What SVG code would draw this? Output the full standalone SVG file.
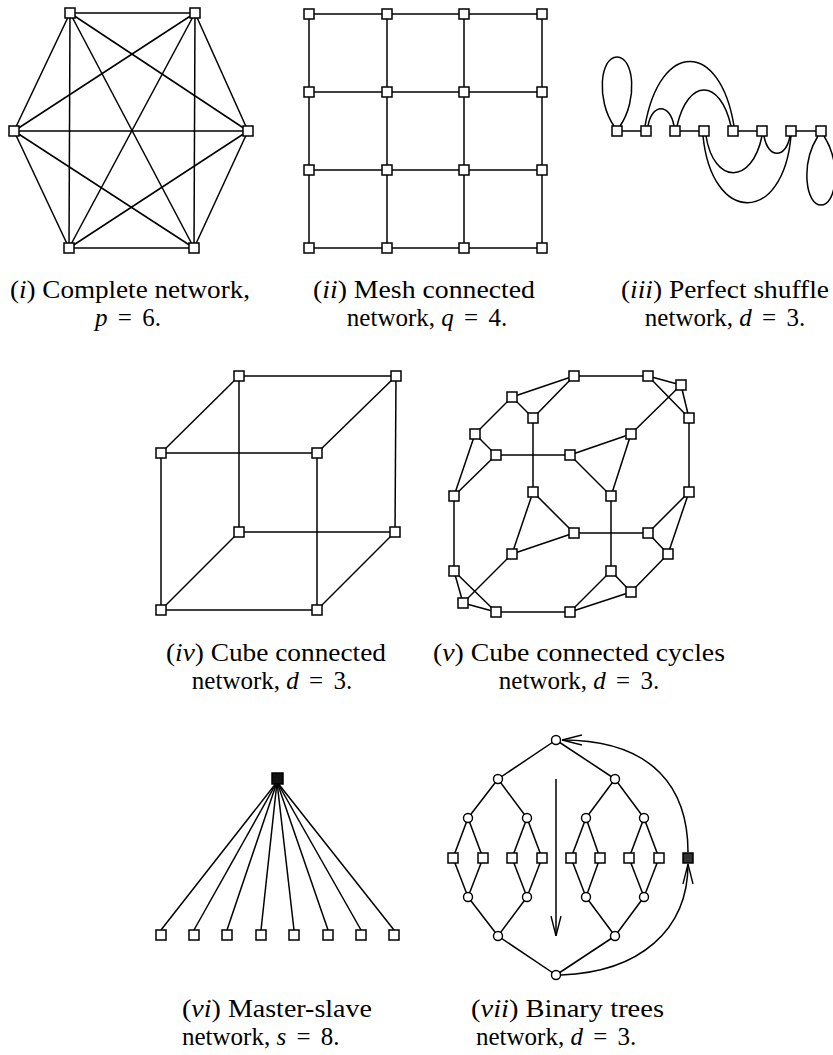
<svg xmlns="http://www.w3.org/2000/svg" width="833" height="1055" viewBox="0 0 833 1055">
<style>
.e line,.e path{stroke:#000;stroke-width:1.5;fill:none}
.n rect{fill:#fff;stroke:#000;stroke-width:1.5}
.n circle{fill:#fff;stroke:#000;stroke-width:1.4}
.n rect.fill{fill:#111}
.n rect.hatch{fill:#333}
text{font-family:"Liberation Serif","Times New Roman",serif;font-size:25px;fill:#000}
.it{font-style:italic}
</style>
<defs>
<marker id="ah" viewBox="0 0 20 12" refX="20" refY="6" markerWidth="20" markerHeight="12" markerUnits="userSpaceOnUse" orient="auto">
<path d="M0,1 L20,6 L0,11" fill="none" stroke="#000" stroke-width="1.4"/>
</marker>
</defs>
<rect width="833" height="1055" fill="#fff"/>

<!-- (i) complete network -->
<g id="complete-edges" class="e">
<line x1="70" y1="13" x2="195" y2="13"/><line x1="70" y1="13" x2="14" y2="131"/><line x1="70" y1="13" x2="248" y2="131"/><line x1="70" y1="13" x2="69" y2="248"/><line x1="70" y1="13" x2="194" y2="248"/>
<line x1="195" y1="13" x2="14" y2="131"/><line x1="195" y1="13" x2="248" y2="131"/><line x1="195" y1="13" x2="69" y2="248"/><line x1="195" y1="13" x2="194" y2="248"/>
<line x1="14" y1="131" x2="248" y2="131"/><line x1="14" y1="131" x2="69" y2="248"/><line x1="14" y1="131" x2="194" y2="248"/>
<line x1="248" y1="131" x2="69" y2="248"/><line x1="248" y1="131" x2="194" y2="248"/>
<line x1="69" y1="248" x2="194" y2="248"/>
</g>
<g id="c1" class="n"><rect x="65" y="8" width="10" height="10"/></g>
<g id="c2" class="n"><rect x="190" y="8" width="10" height="10"/></g>
<g id="c3" class="n"><rect x="9" y="126" width="10" height="10"/></g>
<g id="c4" class="n"><rect x="243" y="126" width="10" height="10"/></g>
<g id="c5" class="n"><rect x="64" y="243" width="10" height="10"/></g>
<g id="c6" class="n"><rect x="189" y="243" width="10" height="10"/></g>

<!-- (ii) mesh -->
<g id="mesh-edges" class="e">
<line x1="309" y1="14" x2="542" y2="14"/><line x1="309" y1="92" x2="542" y2="92"/><line x1="309" y1="170" x2="542" y2="170"/><line x1="309" y1="248" x2="542" y2="248"/>
<line x1="309" y1="14" x2="309" y2="248"/><line x1="387" y1="14" x2="387" y2="248"/><line x1="464" y1="14" x2="464" y2="248"/><line x1="542" y1="14" x2="542" y2="248"/>
</g>
<g id="m11" class="n"><rect x="304" y="9" width="10" height="10"/></g>
<g id="m12" class="n"><rect x="382" y="9" width="10" height="10"/></g>
<g id="m13" class="n"><rect x="459" y="9" width="10" height="10"/></g>
<g id="m14" class="n"><rect x="537" y="9" width="10" height="10"/></g>
<g id="m21" class="n"><rect x="304" y="87" width="10" height="10"/></g>
<g id="m22" class="n"><rect x="382" y="87" width="10" height="10"/></g>
<g id="m23" class="n"><rect x="459" y="87" width="10" height="10"/></g>
<g id="m24" class="n"><rect x="537" y="87" width="10" height="10"/></g>
<g id="m31" class="n"><rect x="304" y="165" width="10" height="10"/></g>
<g id="m32" class="n"><rect x="382" y="165" width="10" height="10"/></g>
<g id="m33" class="n"><rect x="459" y="165" width="10" height="10"/></g>
<g id="m34" class="n"><rect x="537" y="165" width="10" height="10"/></g>
<g id="m41" class="n"><rect x="304" y="243" width="10" height="10"/></g>
<g id="m42" class="n"><rect x="382" y="243" width="10" height="10"/></g>
<g id="m43" class="n"><rect x="459" y="243" width="10" height="10"/></g>
<g id="m44" class="n"><rect x="537" y="243" width="10" height="10"/></g>

<!-- (iii) perfect shuffle -->
<g id="shuffle-edges" class="e">
<line x1="617" y1="131" x2="646" y2="131"/><line x1="675" y1="131" x2="704" y2="131"/><line x1="733" y1="131" x2="762" y2="131"/><line x1="791" y1="131" x2="821" y2="131"/>
<path d="M614,126 C596,100 600,57 617,57 C634,57 638,100 620,126"/>
<path d="M645,126 C660,40 720,40 734,126"/>
<path d="M677,126 C688,78 720,78 731,126"/>
<path d="M648,126 C652,103 670,103 674,126"/>
<path d="M703,136 C712,225 783,225 791,136"/>
<path d="M706,136 C714,185 752,185 762,136"/>
<path d="M764,136 C768,159 786,159 790,136"/>
<path d="M818,136 C800,165 806,205 821,205 C836,205 842,165 824,136"/>
</g>
<g id="s0" class="n"><rect x="612" y="126" width="10" height="10"/></g>
<g id="s1" class="n"><rect x="641" y="126" width="10" height="10"/></g>
<g id="s2" class="n"><rect x="670" y="126" width="10" height="10"/></g>
<g id="s3" class="n"><rect x="699" y="126" width="10" height="10"/></g>
<g id="s4" class="n"><rect x="728" y="126" width="10" height="10"/></g>
<g id="s5" class="n"><rect x="757" y="126" width="10" height="10"/></g>
<g id="s6" class="n"><rect x="786" y="126" width="10" height="10"/></g>
<g id="s7" class="n"><rect x="816" y="126" width="10" height="10"/></g>

<!-- (iv) cube -->
<g id="cube-edges" class="e">
<line x1="239" y1="376" x2="396" y2="376"/><line x1="239" y1="376" x2="161" y2="453"/><line x1="396" y1="376" x2="317" y2="453"/><line x1="161" y1="453" x2="317" y2="453"/>
<line x1="239" y1="376" x2="239" y2="532"/><line x1="396" y1="376" x2="395" y2="532"/><line x1="161" y1="453" x2="161" y2="610"/><line x1="317" y1="453" x2="317" y2="610"/>
<line x1="239" y1="532" x2="395" y2="532"/><line x1="239" y1="532" x2="161" y2="610"/><line x1="395" y1="532" x2="317" y2="610"/><line x1="161" y1="610" x2="317" y2="610"/>
</g>
<g id="k1" class="n"><rect x="234" y="371" width="10" height="10"/></g>
<g id="k2" class="n"><rect x="391" y="371" width="10" height="10"/></g>
<g id="k3" class="n"><rect x="156" y="448" width="10" height="10"/></g>
<g id="k4" class="n"><rect x="312" y="448" width="10" height="10"/></g>
<g id="k5" class="n"><rect x="234" y="527" width="10" height="10"/></g>
<g id="k6" class="n"><rect x="390" y="527" width="10" height="10"/></g>
<g id="k7" class="n"><rect x="156" y="605" width="10" height="10"/></g>
<g id="k8" class="n"><rect x="312" y="605" width="10" height="10"/></g>

<!-- (v) cube connected cycles -->
<g id="ccc-edges" class="e">
<line x1="574" y1="376" x2="648" y2="376"/><line x1="574" y1="376" x2="512" y2="397"/><line x1="574" y1="376" x2="533" y2="418"/><line x1="512" y1="397" x2="533" y2="418"/>
<line x1="648" y1="376" x2="681" y2="385"/><line x1="648" y1="376" x2="689" y2="418"/><line x1="681" y1="385" x2="689" y2="418"/>
<line x1="512" y1="397" x2="475" y2="434"/><line x1="533" y1="418" x2="533" y2="492"/><line x1="681" y1="385" x2="631" y2="434"/><line x1="689" y1="418" x2="689" y2="492"/>
<line x1="475" y1="434" x2="496" y2="455"/><line x1="475" y1="434" x2="454" y2="496"/><line x1="496" y1="455" x2="454" y2="496"/>
<line x1="496" y1="455" x2="570" y2="455"/>
<line x1="570" y1="455" x2="631" y2="434"/><line x1="570" y1="455" x2="611" y2="496"/><line x1="631" y1="434" x2="611" y2="496"/>
<line x1="533" y1="492" x2="574" y2="533"/><line x1="533" y1="492" x2="512" y2="554"/><line x1="574" y1="533" x2="512" y2="554"/>
<line x1="574" y1="533" x2="648" y2="533"/>
<line x1="648" y1="533" x2="689" y2="492"/><line x1="648" y1="533" x2="668" y2="554"/><line x1="689" y1="492" x2="668" y2="554"/>
<line x1="611" y1="496" x2="611" y2="571"/>
<line x1="611" y1="571" x2="631" y2="592"/><line x1="611" y1="571" x2="570" y2="612"/><line x1="631" y1="592" x2="570" y2="612"/>
<line x1="668" y1="554" x2="631" y2="592"/>
<line x1="454" y1="496" x2="454" y2="571"/>
<line x1="454" y1="571" x2="463" y2="603"/><line x1="454" y1="571" x2="496" y2="612"/><line x1="463" y1="603" x2="496" y2="612"/>
<line x1="512" y1="554" x2="463" y2="603"/>
<line x1="496" y1="612" x2="570" y2="612"/>
</g>
<g id="q1" class="n"><rect x="569" y="371" width="10" height="10"/></g>
<g id="q2" class="n"><rect x="643" y="371" width="10" height="10"/></g>
<g id="q3" class="n"><rect x="676" y="380" width="10" height="10"/></g>
<g id="q4" class="n"><rect x="507" y="392" width="10" height="10"/></g>
<g id="q5" class="n"><rect x="528" y="413" width="10" height="10"/></g>
<g id="q6" class="n"><rect x="684" y="413" width="10" height="10"/></g>
<g id="q7" class="n"><rect x="470" y="429" width="10" height="10"/></g>
<g id="q8" class="n"><rect x="626" y="429" width="10" height="10"/></g>
<g id="q9" class="n"><rect x="491" y="450" width="10" height="10"/></g>
<g id="q10" class="n"><rect x="565" y="450" width="10" height="10"/></g>
<g id="q11" class="n"><rect x="449" y="491" width="10" height="10"/></g>
<g id="q12" class="n"><rect x="528" y="487" width="10" height="10"/></g>
<g id="q13" class="n"><rect x="606" y="491" width="10" height="10"/></g>
<g id="q14" class="n"><rect x="684" y="487" width="10" height="10"/></g>
<g id="q15" class="n"><rect x="569" y="528" width="10" height="10"/></g>
<g id="q16" class="n"><rect x="643" y="528" width="10" height="10"/></g>
<g id="q17" class="n"><rect x="507" y="549" width="10" height="10"/></g>
<g id="q18" class="n"><rect x="663" y="549" width="10" height="10"/></g>
<g id="q19" class="n"><rect x="449" y="566" width="10" height="10"/></g>
<g id="q20" class="n"><rect x="606" y="566" width="10" height="10"/></g>
<g id="q21" class="n"><rect x="626" y="587" width="10" height="10"/></g>
<g id="q22" class="n"><rect x="458" y="598" width="10" height="10"/></g>
<g id="q23" class="n"><rect x="491" y="607" width="10" height="10"/></g>
<g id="q24" class="n"><rect x="565" y="607" width="10" height="10"/></g>

<!-- (vi) master-slave -->
<g id="ms-edges" class="e">
<line x1="277" y1="782" x2="161" y2="930"/><line x1="277" y1="782" x2="194" y2="930"/><line x1="277" y1="782" x2="227" y2="930"/><line x1="277" y1="782" x2="261" y2="930"/>
<line x1="277" y1="782" x2="294" y2="930"/><line x1="277" y1="782" x2="328" y2="930"/><line x1="277" y1="782" x2="361" y2="930"/><line x1="277" y1="782" x2="394" y2="930"/>
</g>
<g id="master" class="n"><rect class="fill" x="272" y="773" width="11" height="11"/></g>
<g id="sl1" class="n"><rect x="156" y="930" width="10" height="10"/></g>
<g id="sl2" class="n"><rect x="189" y="930" width="10" height="10"/></g>
<g id="sl3" class="n"><rect x="222" y="930" width="10" height="10"/></g>
<g id="sl4" class="n"><rect x="256" y="930" width="10" height="10"/></g>
<g id="sl5" class="n"><rect x="289" y="930" width="10" height="10"/></g>
<g id="sl6" class="n"><rect x="323" y="930" width="10" height="10"/></g>
<g id="sl7" class="n"><rect x="356" y="930" width="10" height="10"/></g>
<g id="sl8" class="n"><rect x="389" y="930" width="10" height="10"/></g>

<!-- (vii) binary trees -->
<g id="bt-edges" class="e">
<line x1="556" y1="740" x2="498" y2="779"/><line x1="556" y1="740" x2="615" y2="779"/>
<line x1="498" y1="779" x2="468" y2="818"/><line x1="498" y1="779" x2="527" y2="818"/><line x1="615" y1="779" x2="586" y2="818"/><line x1="615" y1="779" x2="644" y2="818"/>
<line x1="468" y1="818" x2="453" y2="858"/><line x1="468" y1="818" x2="483" y2="858"/><line x1="527" y1="818" x2="512" y2="858"/><line x1="527" y1="818" x2="542" y2="858"/>
<line x1="586" y1="818" x2="571" y2="858"/><line x1="586" y1="818" x2="600" y2="858"/><line x1="644" y1="818" x2="629" y2="858"/><line x1="644" y1="818" x2="659" y2="858"/>
<line x1="453" y1="858" x2="468" y2="897"/><line x1="483" y1="858" x2="468" y2="897"/><line x1="512" y1="858" x2="527" y2="897"/><line x1="542" y1="858" x2="527" y2="897"/>
<line x1="571" y1="858" x2="586" y2="897"/><line x1="600" y1="858" x2="586" y2="897"/><line x1="629" y1="858" x2="644" y2="897"/><line x1="659" y1="858" x2="644" y2="897"/>
<line x1="468" y1="897" x2="498" y2="936"/><line x1="527" y1="897" x2="498" y2="936"/><line x1="586" y1="897" x2="615" y2="936"/><line x1="644" y1="897" x2="615" y2="936"/>
<line x1="498" y1="936" x2="556" y2="975"/><line x1="615" y1="936" x2="556" y2="975"/>
<line x1="556" y1="779" x2="556" y2="936" marker-end="url(#ah)"/>
<path d="M688,852 C688,790 655,740 562,740" marker-end="url(#ah)"/>
<path d="M561,975 C640,972 688,930 688,864" marker-end="url(#ah)"/>
</g>
<g id="b0" class="n"><circle cx="556" cy="740" r="4.5"/></g>
<g id="b1" class="n"><circle cx="498" cy="779" r="4.5"/></g>
<g id="b2" class="n"><circle cx="615" cy="779" r="4.5"/></g>
<g id="b3" class="n"><circle cx="468" cy="818" r="4.5"/></g>
<g id="b4" class="n"><circle cx="527" cy="818" r="4.5"/></g>
<g id="b5" class="n"><circle cx="586" cy="818" r="4.5"/></g>
<g id="b6" class="n"><circle cx="644" cy="818" r="4.5"/></g>
<g id="bl1" class="n"><rect x="448" y="853" width="10" height="10"/></g>
<g id="bl2" class="n"><rect x="478" y="853" width="10" height="10"/></g>
<g id="bl3" class="n"><rect x="507" y="853" width="10" height="10"/></g>
<g id="bl4" class="n"><rect x="537" y="853" width="10" height="10"/></g>
<g id="bl5" class="n"><rect x="566" y="853" width="10" height="10"/></g>
<g id="bl6" class="n"><rect x="595" y="853" width="10" height="10"/></g>
<g id="bl7" class="n"><rect x="624" y="853" width="10" height="10"/></g>
<g id="bl8" class="n"><rect x="654" y="853" width="10" height="10"/></g>
<g id="bx" class="n"><rect class="hatch" x="683" y="853" width="10" height="10"/></g>
<g id="u3" class="n"><circle cx="468" cy="897" r="4.5"/></g>
<g id="u4" class="n"><circle cx="527" cy="897" r="4.5"/></g>
<g id="u5" class="n"><circle cx="586" cy="897" r="4.5"/></g>
<g id="u6" class="n"><circle cx="644" cy="897" r="4.5"/></g>
<g id="u1" class="n"><circle cx="498" cy="936" r="4.5"/></g>
<g id="u2" class="n"><circle cx="615" cy="936" r="4.5"/></g>
<g id="u0" class="n"><circle cx="556" cy="975" r="4.5"/></g>

<!-- labels -->
<g id="labels">
<text x="130" y="298" text-anchor="middle" textLength="240" lengthAdjust="spacingAndGlyphs">(<tspan class="it">i</tspan>) Complete network,</text>
<text x="128" y="326" text-anchor="middle"><tspan class="it">p</tspan> <tspan dx="4">=</tspan> <tspan dx="4">6.</tspan></text>
<text x="424" y="298" text-anchor="middle" textLength="222" lengthAdjust="spacingAndGlyphs">(<tspan class="it">ii</tspan>) Mesh connected</text>
<text x="427" y="326" text-anchor="middle">network, <tspan class="it">q</tspan> <tspan dx="4">=</tspan> <tspan dx="4">4.</tspan></text>
<text x="725" y="298" text-anchor="middle" textLength="208" lengthAdjust="spacingAndGlyphs">(<tspan class="it">iii</tspan>) Perfect shuffle</text>
<text x="725" y="326" text-anchor="middle">network, <tspan class="it">d</tspan> <tspan dx="4">=</tspan> <tspan dx="4">3.</tspan></text>
<text x="276" y="661" text-anchor="middle" textLength="220" lengthAdjust="spacingAndGlyphs">(<tspan class="it">iv</tspan>) Cube connected</text>
<text x="272" y="689" text-anchor="middle">network, <tspan class="it">d</tspan> <tspan dx="4">=</tspan> <tspan dx="4">3.</tspan></text>
<text x="579" y="661" text-anchor="middle" textLength="292" lengthAdjust="spacingAndGlyphs">(<tspan class="it">v</tspan>) Cube connected cycles</text>
<text x="579" y="689" text-anchor="middle">network, <tspan class="it">d</tspan> <tspan dx="4">=</tspan> <tspan dx="4">3.</tspan></text>
<text x="182" y="1017" textLength="190" lengthAdjust="spacingAndGlyphs">(<tspan class="it">vi</tspan>) Master-slave</text>
<text x="182" y="1045">network, <tspan class="it">s</tspan> <tspan dx="4">=</tspan> <tspan dx="4">8.</tspan></text>
<text x="471" y="1017" textLength="193" lengthAdjust="spacingAndGlyphs">(<tspan class="it">vii</tspan>) Binary trees</text>
<text x="476" y="1045">network, <tspan class="it">d</tspan> <tspan dx="4">=</tspan> <tspan dx="4">3.</tspan></text>
</g>
</svg>
